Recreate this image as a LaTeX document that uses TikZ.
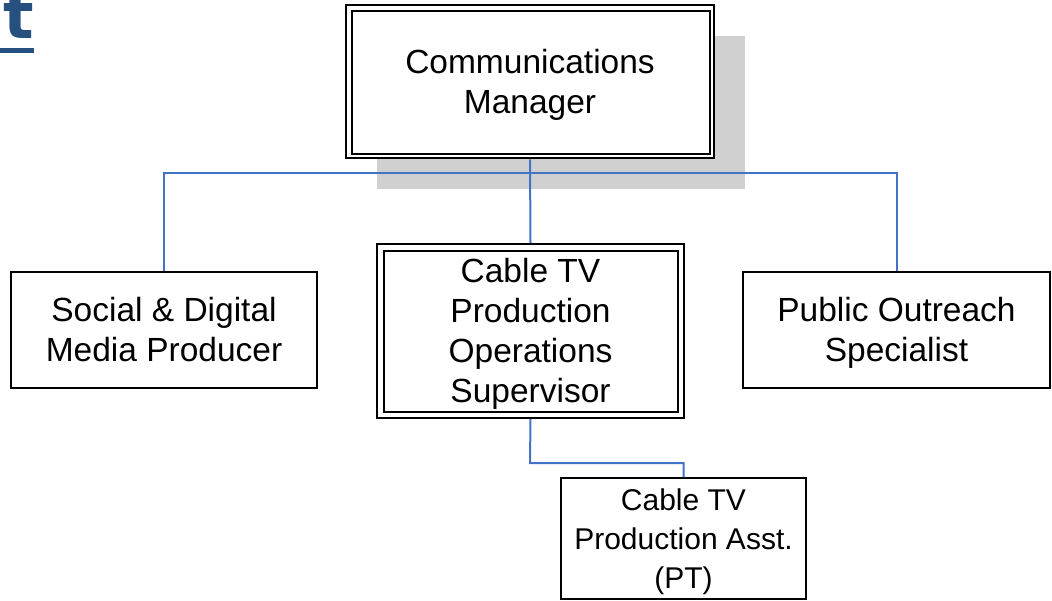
\documentclass[tikz,border=0pt]{standalone}
\usepackage{fontspec}
\setmainfont{Liberation Sans}
\newfontfamily\titlefont{DejaVu Sans}
\usetikzlibrary{shadows}
\definecolor{connblue}{RGB}{68,114,196}
\definecolor{titleblue}{RGB}{38,80,128}
\definecolor{shadowgray}{RGB}{208,208,208}
\newcommand\sa{\rule[-8pt]{0pt}{39pt}}
\newcommand\sbb{\rule[-6pt]{0pt}{35pt}}
\tikzset{
  box/.style={draw=black, line width=2pt, fill=white, inner sep=0pt, align=center,
    font=\fontsize{33.5}{40}\selectfont},
  innerbox/.style={draw=black, line width=2pt},
  conn/.style={draw=connblue, line width=2pt},
}
\begin{document}
\begin{tikzpicture}[x=1pt,y=-1pt]
\useasboundingbox (0,0) rectangle (1052,600);
\clip (0,0) rectangle (1052,600);
% title fragment
\node[anchor=base east, inner sep=0pt, text=titleblue, font=\titlefont\bfseries\fontsize{64}{64}\selectfont] (ttl) at (34,38) {t};
\fill[titleblue] (0,48) rectangle (34,53);
% manager
\node[box, line width=2.6pt, minimum width=368, minimum height=153,
  drop shadow={shadow xshift=31pt, shadow yshift=-31pt, fill=shadowgray, opacity=1}] (cm) at (530,81.5)
  {\sa Communications\\\sa Manager};
\draw[innerbox] ([shift={(7,7)}]cm.north west) rectangle ([shift={(-5,-5)}]cm.south east);
% second level
\node[box, minimum width=306, minimum height=116] (smp) at (164,330) {\sa Social \& Digital\\\sa Media Producer};
\node[box, minimum width=307, minimum height=174] (cab) at (530.5,331) {\sa Cable TV\\\sa Production\\\sa Operations\\\sa Supervisor};
\draw[innerbox] ([shift={(8,8)}]cab.north west) rectangle ([shift={(-7,-7)}]cab.south east);
\node[box, minimum width=307, minimum height=116] (pos) at (896.5,330) {\sa Public Outreach\\\sa Specialist};
% third level
\node[box, font=\fontsize{30}{39}\selectfont, minimum width=245, minimum height=121] (pt) at (683.5,538.5) {\sbb Cable TV\\\sbb Production Asst.\\\sbb (PT)};
% connectors
\coordinate (bus) at (530,173);
\coordinate (elb) at (530,463);
\draw[conn] (cm.south) -- (cab.north);
\draw[conn] (smp.north) |- (bus) -| (pos.north);
\draw[conn] (cab.south) -- (elb) -| (pt.north);
\end{tikzpicture}
\end{document}
